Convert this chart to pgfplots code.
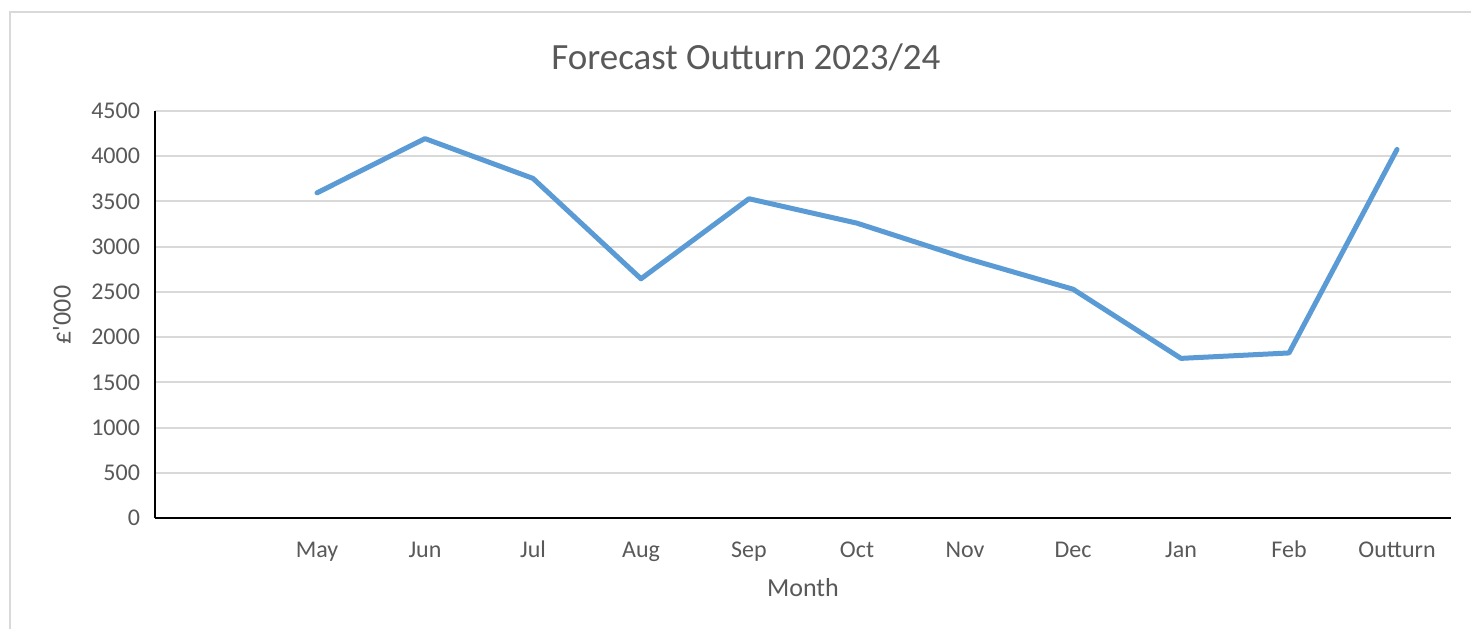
\documentclass[border=0pt]{standalone}
\usepackage{pgfplots}
\pgfplotsset{compat=1.18}
\usepackage{fontspec}
\setmainfont{Carlito}
\newfontfamily\plainfont{Carlito}
\definecolor{linecol}{HTML}{5B9BD5}
\definecolor{txt}{HTML}{595959}
\definecolor{gridcol}{HTML}{D9D9D9}
\begin{document}
\begin{tikzpicture}[x=1pt,y=1pt]
\useasboundingbox (0,0) rectangle (735.5,314.5);
\fill[white] (0,0) rectangle (735.5,314.5);
\draw[gridcol, line width=0.75pt] (5,0) -- (5,308.5) -- (735.5,308.5);
\begin{axis}[
  at={(77.5pt,55.5pt)}, anchor=south west,
  scale only axis, width=648pt, height=203.5pt,
  xmin=-0.5, xmax=11.5, ymin=0, ymax=4500,
  xtick={1,2,3,4,5,6,7,8,9,10,11},
  xticklabels={May,Jun,Jul,Aug,Sep,Oct,Nov,Dec,Jan,Feb,Outturn},
  ytick={0,500,1000,1500,2000,2500,3000,3500,4000,4500},
  major tick length=0pt, tick style={draw=none},
  axis x line*=bottom, axis y line*=left,
  axis line style={black, line width=1pt, -},
  xmajorgrids=false, ymajorgrids=true,
  major grid style={draw=gridcol, line width=1pt},
  tick label style={txt, font=\fontsize{12}{14}\selectfont},
  /pgf/number format/assume math mode=true,
  /pgf/number format/1000 sep={},
  xticklabel style={anchor=base, yshift=-19.5pt},
  yticklabel style={xshift=-4pt},
  clip=false,
]
\addplot[linecol, line width=2.5pt, line join=round, line cap=round] coordinates {
(1,3595) (2,4195) (3,3755) (4,2645) (5,3530) (6,3260) (7,2875) (8,2530) (9,1765) (10,1825) (11,4075)
};
\end{axis}
\node[txt, font=\fontsize{18.5}{21}\selectfont] at (373,286) {Forecast Outturn 2023/24};
\node[txt, font=\fontsize{13}{15}\selectfont] at (401.5,20.5) {Month};
\node[txt, font=\fontsize{13}{15}\plainfont, rotate=90] at (31,157) {£'000};
\end{tikzpicture}
\end{document}
